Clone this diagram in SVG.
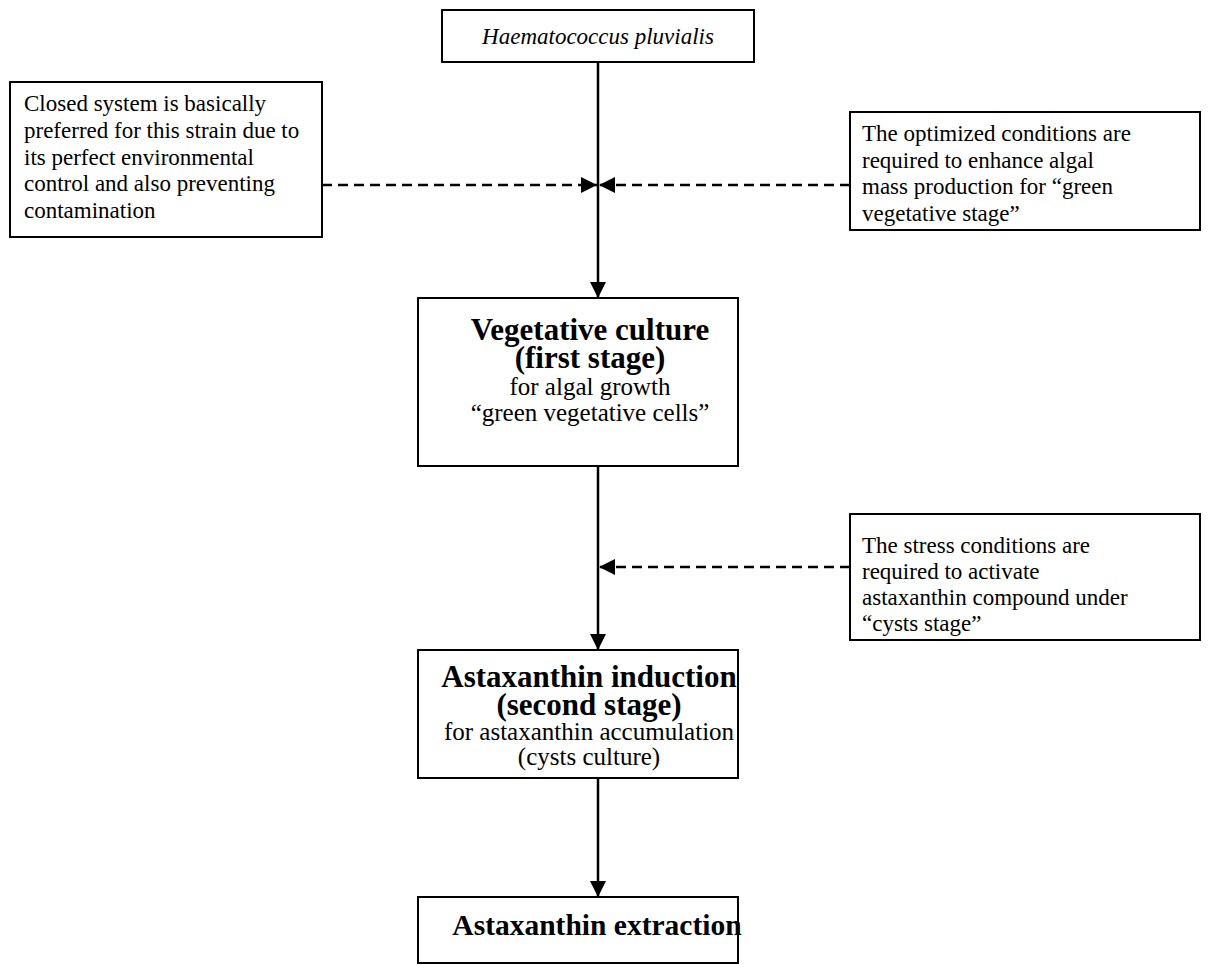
<svg xmlns="http://www.w3.org/2000/svg" width="1213" height="965" viewBox="0 0 1213 965">
<style>
.box{fill:#fff;stroke:#000;stroke-width:2}
.t{font-family:"Liberation Serif","Times New Roman",serif;font-size:23px;fill:#000}
.c{text-anchor:middle}
.m{font-size:25px}
.b{font-weight:bold;font-size:31px}
.i{font-style:italic}
.solid{stroke:#000;stroke-width:2.5;fill:none}
.dash{stroke:#000;stroke-width:2.5;fill:none;stroke-dasharray:10 6}
</style>
<defs>
<marker id="ah" markerUnits="userSpaceOnUse" markerWidth="17" markerHeight="16" refX="16" refY="8" orient="auto">
<path d="M0,0 L16,8 L0,16 z" fill="#000"/>
</marker>
</defs>
<g id="connectors">
<line class="solid" x1="598" y1="62" x2="598" y2="298" marker-end="url(#ah)"/>
<line class="dash" x1="322" y1="185" x2="597" y2="185" marker-end="url(#ah)"/>
<line class="dash" x1="850" y1="185" x2="599" y2="185" marker-end="url(#ah)"/>
<line class="solid" x1="598" y1="466" x2="598" y2="650" marker-end="url(#ah)"/>
<line class="dash" x1="850" y1="567" x2="599" y2="567" marker-end="url(#ah)"/>
<line class="solid" x1="598" y1="778" x2="598" y2="897" marker-end="url(#ah)"/>
</g>
<g id="n-haematococcus">
<rect class="box" x="442" y="10" width="312" height="52"/>
<text class="t i c" x="598" y="44">Haematococcus pluvialis</text>
</g>
<g id="n-closed">
<rect class="box" x="10" y="82" width="312" height="155"/>
<text class="t"><tspan x="24" y="111">Closed system is basically</tspan><tspan x="24" y="138">preferred for this strain due to</tspan><tspan x="24" y="165">its perfect environmental</tspan><tspan x="24" y="191">control and also preventing</tspan><tspan x="24" y="218">contamination</tspan></text>
</g>
<g id="n-optimized">
<rect class="box" x="850" y="112" width="350" height="118"/>
<text class="t"><tspan x="862" y="141">The optimized conditions are</tspan><tspan x="862" y="168">required to enhance algal</tspan><tspan x="862" y="194">mass production for “green</tspan><tspan x="862" y="221">vegetative stage”</tspan></text>
</g>
<g id="n-vegetative">
<rect class="box" x="418" y="298" width="320" height="168"/>
<text class="t c b" x="590" y="340">Vegetative culture</text>
<text class="t c b" x="590" y="368">(first stage)</text>
<text class="t c m" x="590" y="395">for algal growth</text>
<text class="t c m" x="590" y="421">“green vegetative cells”</text>
</g>
<g id="n-stress">
<rect class="box" x="850" y="514" width="350" height="126"/>
<text class="t"><tspan x="862" y="553">The stress conditions are</tspan><tspan x="862" y="579">required to activate</tspan><tspan x="862" y="605">astaxanthin compound under</tspan><tspan x="862" y="631">“cysts stage”</tspan></text>
</g>
<g id="n-induction">
<rect class="box" x="418" y="650" width="320" height="128"/>
<text class="t c b" x="589" y="687">Astaxanthin induction</text>
<text class="t c b" x="589" y="715">(second stage)</text>
<text class="t c m" x="589" y="740">for astaxanthin accumulation</text>
<text class="t c m" x="589" y="765">(cysts culture)</text>
</g>
<g id="n-extraction">
<rect class="box" x="418" y="897" width="320" height="66"/>
<text class="t c b" x="597" y="935" style="font-size:29.5px">Astaxanthin extraction</text>
</g>
</svg>
